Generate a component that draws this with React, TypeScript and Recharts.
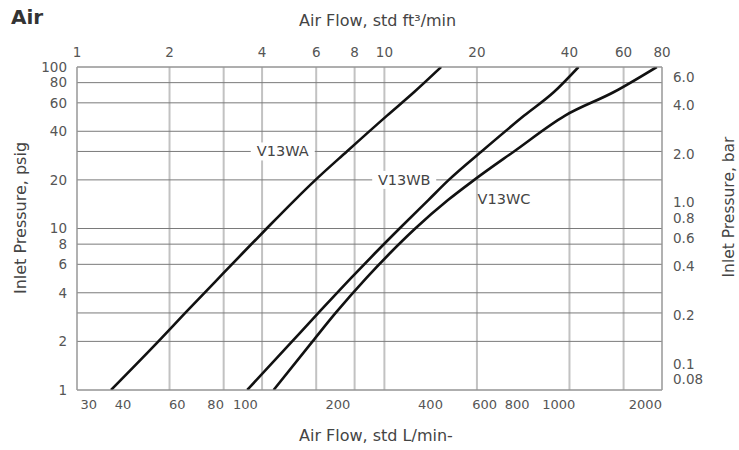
import React from 'react';
import { LineChart, Line, XAxis, YAxis, CartesianGrid, ReferenceDot } from 'recharts';

// inlet pressure levels (psig) the curves were read at
const PSIG = [1, 2, 3, 5, 7, 10, 15, 20, 30, 50, 70, 100];

// air flow in std ft3/min at each pressure level
const V13WA_CFM = [1.29, 1.84, 2.25, 2.91, 3.45, 4.14, 5.11, 5.97, 7.55, 10.2, 12.5, 15.3];
const V13WB_CFM = [3.58, 5.01, 6.1, 7.84, 9.3, 11.2, 13.9, 16.2, 20.7, 28.5, 35.6, 42.8];
const V13WC_CFM = [4.36, 5.84, 6.94, 8.79, 10.4, 12.6, 16.1, 19.6, 26.4, 38.7, 55.8, 76.9];

const LPM_PER_CFM = 28.317;
const PSI_PER_BAR = 14.5038;

const CFM_DOMAIN = [1, 80];
const PSIG_DOMAIN = [1, 100];

const CFM_TICKS = [1, 2, 3, 4, 6, 8, 10, 20, 40, 60, 80];
const LPM_TICKS = [30, 40, 60, 80, 100, 200, 400, 600, 800, 1000, 2000];
const PSIG_TICKS = [1, 2, 3, 4, 6, 8, 10, 20, 30, 40, 60, 80, 100];
const BAR_TICKS = [0.08, 0.1, 0.2, 0.4, 0.6, 0.8, 1, 2, 4, 6];
const GRID_ONLY = [3, 30]; // gridlines without a label

const CURVE_LABELS = [
  { name: 'V13WA', cfm: 4.67, psig: 30, boxed: true },
  { name: 'V13WB', cfm: 11.6, psig: 20, boxed: true },
  { name: 'V13WC', cfm: 24.5, psig: 15.2, boxed: false },
];

const SERIES = [
  { key: 'V13WA', flows: V13WA_CFM },
  { key: 'V13WB', flows: V13WB_CFM },
  { key: 'V13WC', flows: V13WC_CFM },
];

const FONT = '"DejaVu Sans", Verdana, sans-serif';
const tickStyle = { fontSize: 13.5, fill: '#555', fontFamily: FONT };
const axisLine = { stroke: '#a0a0a0' };

// 800 and 1000 sit close together on a log axis, push them apart a bit
const LPM_NUDGE: Record<number, number> = { 800: -6, 1000: 6, 30: 4 };

const toRows = (flows: number[]) =>
  flows.map((cfm, i) => ({
    cfm,
    psig: PSIG[i],
    lpm: cfm * LPM_PER_CFM,
    bar: PSIG[i] / PSI_PER_BAR,
  }));

const hideGridOnly = (v: number) => (GRID_ONLY.includes(v) ? '' : String(v));
const barFormat = (v: number) => (v < 0.1 ? String(v) : v.toFixed(1));

const LpmTick = ({ x, y, payload }: any) => (
  <text
    x={x + (LPM_NUDGE[payload.value] || 0)}
    y={y}
    dy="0.71em"
    textAnchor="middle"
    fontSize={13}
    fill="#555"
    fontFamily={FONT}
  >
    {payload.value}
  </text>
);

// curve name, boxed ones sit on a gridline with white behind them
const CurveLabel = ({ cx, cy, name, boxed }: any) => {
  const w = 60;
  return (
    <g>
      {boxed && <rect x={cx - w / 2 - 2} y={cy - 9} width={w + 4} height={18} fill="#fff" />}
      <text x={cx} y={cy + 5} textAnchor="middle" fontSize={14.5} fill="#444" fontFamily={FONT}>
        {name}
      </text>
    </g>
  );
};

const titleStyle = { position: 'absolute', fontSize: 16, color: '#444', lineHeight: '16px', whiteSpace: 'nowrap' } as const;

export default function App() {
  return (
    <div style={{ position: 'absolute', left: 0, top: 0, width: 739, height: 450, background: '#fff', fontFamily: FONT }}>
      <div style={{ position: 'absolute', left: 11, top: 7, fontSize: 20, fontWeight: 'bold', color: '#333', lineHeight: '20px' }}>Air</div>
      <div style={{ ...titleStyle, left: 299, top: 13 }}>Air Flow, std ft³/min</div>
      <div style={{ ...titleStyle, left: 299, top: 428 }}>Air Flow, std L/min-</div>
      <div style={{ ...titleStyle, left: 21, top: 218, transform: 'translate(-50%, -50%) rotate(-90deg)' }}>
        Inlet Pressure, psig
      </div>
      <div style={{ ...titleStyle, left: 729, top: 207, fontSize: 15.5, transform: 'translate(-50%, -50%) rotate(-90deg)' }}>
        Inlet Pressure, bar
      </div>

      <LineChart width={739} height={450} margin={{ top: 47, right: 37, bottom: 30, left: 37 }}>
        <CartesianGrid xAxisId="cfm" yAxisId="psig" horizontal={false} stroke="#c2c2c2" strokeWidth={2} />
        <CartesianGrid xAxisId="cfm" yAxisId="psig" vertical={false} stroke="#7a7a7a" strokeWidth={1} />
        <XAxis
          xAxisId="cfm"
          orientation="top"
          type="number"
          dataKey="cfm"
          scale="log"
          domain={CFM_DOMAIN}
          allowDataOverflow
          ticks={CFM_TICKS}
          interval={0}
          tickFormatter={hideGridOnly}
          height={20}
          tickLine={false}
          tickSize={6}
          tickMargin={4}
          axisLine={axisLine}
          tick={tickStyle}
        />
        <XAxis
          xAxisId="lpm"
          orientation="bottom"
          type="number"
          dataKey="lpm"
          scale="log"
          domain={[CFM_DOMAIN[0] * LPM_PER_CFM, CFM_DOMAIN[1] * LPM_PER_CFM]}
          allowDataOverflow
          ticks={LPM_TICKS}
          interval={0}
          height={30}
          tickLine={false}
          tickSize={6}
          tickMargin={4}
          axisLine={axisLine}
          tick={<LpmTick />}
        />
        <YAxis
          yAxisId="psig"
          orientation="left"
          type="number"
          dataKey="psig"
          scale="log"
          domain={PSIG_DOMAIN}
          allowDataOverflow
          ticks={PSIG_TICKS}
          interval={0}
          tickFormatter={hideGridOnly}
          width={40}
          tickLine={false}
          tickSize={6}
          tickMargin={4}
          axisLine={axisLine}
          tick={tickStyle}
        />
        <YAxis
          yAxisId="bar"
          orientation="right"
          type="number"
          dataKey="bar"
          scale="log"
          domain={[PSIG_DOMAIN[0] / PSI_PER_BAR, PSIG_DOMAIN[1] / PSI_PER_BAR]}
          allowDataOverflow
          ticks={BAR_TICKS}
          interval={0}
          tickFormatter={barFormat}
          width={40}
          tickLine={false}
          tickSize={6}
          tickMargin={5}
          axisLine={axisLine}
          tick={tickStyle}
        />
        {/* same curve in L/min and bar, invisible, so the metric axes get data */}
        <Line
          xAxisId="lpm"
          yAxisId="bar"
          data={toRows(V13WA_CFM)}
          dataKey="bar"
          stroke="none"
          strokeOpacity={0}
          dot={false}
          activeDot={false}
          legendType="none"
          isAnimationActive={false}
        />
        {SERIES.map((s) => (
          <Line
            key={s.key}
            name={s.key}
            xAxisId="cfm"
            yAxisId="psig"
            data={toRows(s.flows)}
            dataKey="psig"
            type="monotone"
            stroke="#111"
            strokeWidth={2.6}
            dot={false}
            isAnimationActive={false}
          />
        ))}
        {CURVE_LABELS.map((l) => (
          <ReferenceDot
            key={l.name}
            xAxisId="cfm"
            yAxisId="psig"
            x={l.cfm}
            y={l.psig}
            r={0}
            shape={(p: any) => <CurveLabel cx={p.cx} cy={p.cy} name={l.name} boxed={l.boxed} />}
          />
        ))}
      </LineChart>
    </div>
  );
}
